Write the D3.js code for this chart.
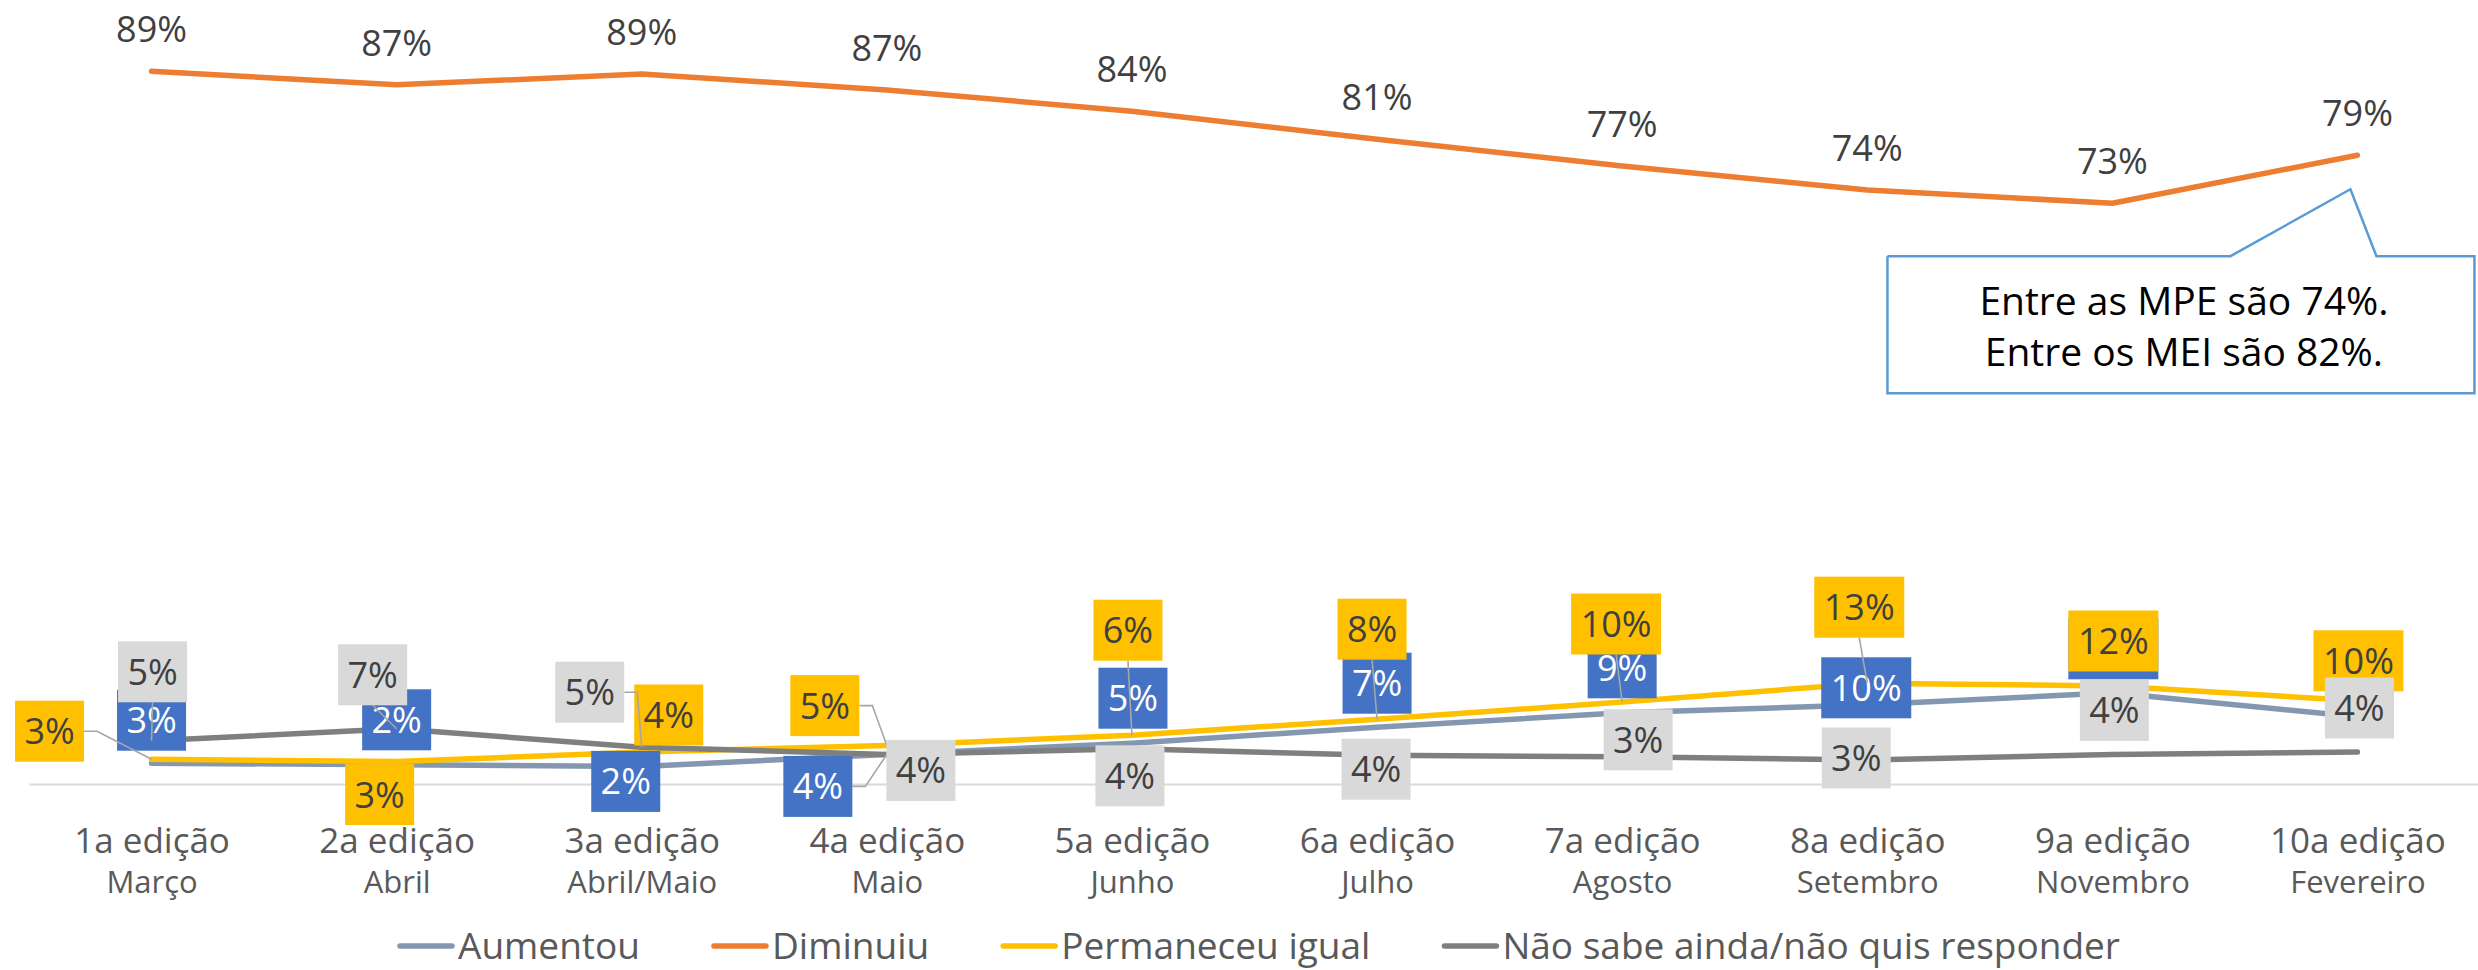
<!DOCTYPE html>
<html lang="pt">
<head>
<meta charset="UTF-8">
<title>Faturamento - edições da pesquisa</title>
<script src="https://d3js.org/d3.v7.min.js"></script>
<style>
    body { margin: 0; background: #fff; }
    svg { display: block; font-family: "Open Sans", sans-serif; }
</style>
</head>
<body>
<div id="chart"></div>
<script>
// categories (two-line tick labels)
const editions = ["1a edição", "2a edição", "3a edição", "4a edição", "5a edição",
                  "6a edição", "7a edição", "8a edição", "9a edição", "10a edição"];
const months = ["Março", "Abril", "Abril/Maio", "Maio", "Junho",
                "Julho", "Agosto", "Setembro", "Novembro", "Fevereiro"];

// series values (%)
const aumentou   = [2.6, 2.4, 2.2, 3.7, 5.1, 7.1, 8.9, 9.9, 11.4, 8.4];
const diminuiu   = [89.1, 87.4, 88.75, 86.75, 84.1, 80.6, 77.25, 74.25, 72.6, 78.6];
const permaneceu = [3.1, 2.8, 4.0, 4.8, 6.1, 8.1, 10.25, 12.6, 12.25, 10.4];
const naoSabe    = [5.4, 6.9, 4.6, 3.7, 4.4, 3.6, 3.4, 3.0, 3.7, 4.0];

const seriesNames = ["Aumentou", "Diminuiu", "Permaneceu igual", "Não sabe ainda/não quis responder"];
const calloutLines = ["Entre as MPE são 74%.", "Entre os MEI são 82%."];

// label placement: offset of label centre from its point (px)
const offAumentou   = [[0,-43],[0,-45],[-16,15],[-69,32],[1,-45],[0,-44],[0,-45],[-1,-17],[1,-44],[2,-27]];
const offPermaneceu = [[-102,-28],[-17,33],[27,-37],[-62,-40],[-4,-105],[-5,-90],[-6,-78],[-8,-76],[1,-45],[1,-40]];
const offNaoSabe    = [[1,-69],[-24,-54],[-52,-55],[34,16],[-2,27],[-1,14],[16,-17],[-11,-2],[2,-44],[2,-44]];

const colors = ["#8497B0", "#ED7D31", "#FFC000", "#7F7F7F"];

const W = 2478, H = 970;
const svg = d3.select("#chart").append("svg")
    .attr("width", W)
    .attr("height", H);

const x = d3.scalePoint()
    .domain(editions)
    .range([29, 2480])
    .padding(0.5);

const y = d3.scaleLinear()
    .domain([0, 98])
    .range([784, 0]);

const fmt = v => Math.round(v) + "%";

// x axis with two-line labels
const axis = svg.append("g")
    .attr("transform", `translate(0, ${y(0)})`)
    .call(d3.axisBottom(x).tickSize(0).tickSizeOuter(0));
axis.select(".domain").attr("stroke", "#D9D9D9").attr("stroke-width", 2);
axis.selectAll(".tick text").each(function(d, i) {
    const t = d3.select(this).text(null)
        .attr("y", 0).attr("dy", null)
        .attr("fill", "#595959")
        .attr("font-family", "'Open Sans', sans-serif");
    t.append("tspan").attr("x", 0).attr("y", 69).attr("font-size", 35).text(d);
    t.append("tspan").attr("x", 0).attr("y", 109).attr("font-size", 31).text(months[i]);
});

// lines
const line = d3.line()
    .x((d, i) => x(editions[i]))
    .y(d => y(d));

[aumentou, diminuiu, permaneceu, naoSabe].forEach((vals, k) => {
    svg.append("path")
        .datum(vals)
        .attr("fill", "none")
        .attr("stroke", colors[k])
        .attr("stroke-width", 5.5)
        .attr("stroke-linecap", "round")
        .attr("stroke-linejoin", "round")
        .attr("d", line);
});

// Diminuiu labels: plain text above points
svg.append("g").selectAll("text")
    .data(diminuiu)
    .join("text")
    .attr("x", (d, i) => x(editions[i]))
    .attr("y", d => y(d) - 42)
    .attr("dy", "0.36em")
    .attr("text-anchor", "middle")
    .attr("font-size", 36)
    .attr("fill", "#404040")
    .text(fmt);

// boxed labels with leader lines
function boxLabels(vals, offsets, fill, textColor) {
    const g = svg.append("g");
    vals.forEach((v, i) => {
        const px = x(editions[i]), py = y(v);
        const txt = fmt(v);
        const w = txt.length > 2 ? 90 : 69, h = 61;
        const cx = px + offsets[i][0], cy = py + offsets[i][1];
        const x0 = cx - w / 2, x1 = cx + w / 2, y0 = cy - h / 2, y1 = cy + h / 2;

        // distance from point to box
        const ddx = Math.max(x0 - px, 0, px - x1);
        const ddy = Math.max(y0 - py, 0, py - y1);
        if (Math.hypot(ddx, ddy) > 20) {
            let pts;
            if (px >= x0 && px <= x1) {
                pts = [[cx, py > cy ? y1 : y0], [px, py]];
            } else if (px > x1) {
                pts = [[x1, cy], [x1 + 13, cy], [px, py]];
            } else {
                pts = [[x0, cy], [x0 - 13, cy], [px, py]];
            }
            g.append("path")
                .attr("d", d3.line()(pts))
                .attr("fill", "none")
                .attr("stroke", "#A6A6A6")
                .attr("stroke-width", 1.6);
        }
        g.append("rect")
            .attr("x", x0).attr("y", y0)
            .attr("width", w).attr("height", h)
            .attr("fill", fill);
        g.append("text")
            .attr("x", cx).attr("y", cy)
            .attr("dy", "0.36em")
            .attr("text-anchor", "middle")
            .attr("font-size", 36)
            .attr("fill", textColor)
            .text(txt);
    });
}

boxLabels(aumentou, offAumentou, "#4472C4", "#FFFFFF");
boxLabels(permaneceu, offPermaneceu, "#FFC000", "#404040");
boxLabels(naoSabe, offNaoSabe, "#D9D9D9", "#404040");

// callout anchored to last Diminuiu point
const ax = x(editions[9]), ay = y(diminuiu[9]);
const bx0 = ax - 470, bx1 = ax + 117, by0 = ay + 101, by1 = ay + 238;
const callout = svg.append("g");
callout.append("path")
    .attr("d", d3.line()([
        [bx0, by0], [ax - 127, by0], [ax - 7, ay + 34], [ax + 19, by0],
        [bx1, by0], [bx1, by1], [bx0, by1], [bx0, by0]
    ]))
    .attr("fill", "#fff")
    .attr("stroke", "#5B9BD5")
    .attr("stroke-width", 2.5);
callout.selectAll("text")
    .data(calloutLines)
    .join("text")
    .attr("x", (bx0 + bx1) / 2 + 3)
    .attr("y", (d, i) => ay + 160 + i * 51)
    .attr("text-anchor", "middle")
    .attr("font-size", 39)
    .attr("fill", "#000")
    .text(d => d);

// legend
const legend = svg.append("g").attr("transform", "translate(0, 946)");
const items = legend.selectAll("g")
    .data(seriesNames)
    .join("g");
items.append("line")
    .attr("x1", 0).attr("x2", 52)
    .attr("stroke", (d, i) => colors[i])
    .attr("stroke-width", 5.5)
    .attr("stroke-linecap", "round");
items.append("text")
    .attr("x", 58)
    .attr("dy", "0.36em")
    .attr("font-size", 37)
    .attr("fill", "#595959")
    .text(d => d);

let widths = [];
items.each(function() {
    widths.push(58 + d3.select(this).select("text").node().getComputedTextLength());
});
const gap = 74;
const total = d3.sum(widths) + gap * (widths.length - 1);
let cursor = 1260 - total / 2;
items.attr("transform", (d, i) => {
    const t = `translate(${cursor}, 0)`;
    cursor += widths[i] + gap;
    return t;
});
</script>
</body>
</html>
